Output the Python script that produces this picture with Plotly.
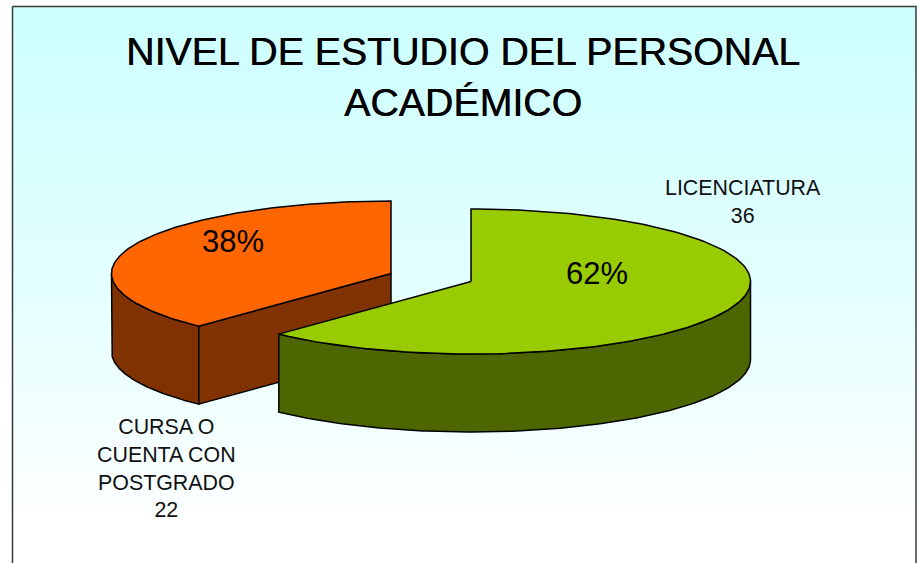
import numpy as np
import plotly.graph_objects as go

# ---- data ----
categories = ["LICENCIATURA", "CURSA O<br>CUENTA CON<br>POSTGRADO"]
values = [36, 22]
top_colors = ["#99CC00", "#FF6600"]
side_colors = ["#4D6600", "#803300"]
title_text = "NIVEL DE ESTUDIO DEL PERSONAL<br>ACADÉMICO"

# ---- layout of the pseudo-3D pie, in page pixels ----
W, H = 919, 563
RX, RY, DEPTH = 279.5, 72.5, 78
centers = [(471, 281.5), (391, 273.5)]      # each slice is pulled out of the pie
OUTLINE = dict(color="#000000", width=1.5)

total = sum(values)
sweeps = np.cumsum([0] + values) / total * 2 * np.pi


def rim(c, a0, a1, n=160):
    t = np.linspace(a0, a1, n)
    return c[0] + RX * np.sin(t), c[1] - RY * np.cos(t)


def poly(fig, x, y, color):
    fig.add_trace(go.Scatter(x=list(x), y=list(y), mode="lines", fill="toself",
                             fillcolor=color, line=OUTLINE, hoverinfo="skip",
                             showlegend=False))


fig = go.Figure()

# panel with vertical cyan-to-white gradient
fig.add_trace(go.Scatter(
    x=[12.5, 916, 916, 12.5, 12.5], y=[6.5, 6.5, 570, 570, 6.5],
    mode="lines", fill="toself", hoverinfo="skip", showlegend=False,
    line=dict(color="#3a3a3a", width=1.5),
    fillgradient=dict(type="vertical", start=6, stop=530,
                      colorscale=[[0, "#CCFFFF"], [0.55, "#E4FFFF"], [1, "#FFFFFF"]]),
))

# orange slice (behind), then green slice (front)
for i in (1, 0):
    c = centers[i]
    a0, a1 = sweeps[i], sweeps[i + 1]
    # outer wall: only the part of the rim facing the viewer
    w0, w1 = max(a0, np.pi / 2), min(a1, 3 * np.pi / 2)
    wx, wy = rim(c, w0, w1)
    poly(fig, np.r_[wx, wx[::-1], wx[0]], np.r_[wy, wy[::-1] + DEPTH, wy[0]], side_colors[i])
    # cut wall facing the viewer, for the slice that ends on the top (hidden for the front one)
    if i == 1:
        sx, sy = rim(c, a0, a0, 1)
        poly(fig, [sx[0], c[0], c[0], sx[0], sx[0]],
             [sy[0], c[1], c[1] + DEPTH, sy[0] + DEPTH, sy[0]], side_colors[i])
    # top face
    tx, ty = rim(c, a0, a1)
    poly(fig, np.r_[c[0], tx, c[0]], np.r_[c[1], ty, c[1]], top_colors[i])

ann = []
ann.append(dict(x=463, y=76, text=title_text,
                font=dict(size=39.3, shadow="0.5px 0 0 #000000")))
for i, (px, py) in enumerate([(597, 273), (233, 241)]):
    ann.append(dict(x=px, y=py, text=f"{values[i] / total:.0%}", font=dict(size=31)))
for i, (px, py) in enumerate([(743, 202), (166, 468)]):
    ann.append(dict(x=px, y=py, text=f"{categories[i]}<br>{values[i]}",
                    font=dict(size=21.4, color="#111111")))

fig.update_layout(
    width=W, height=H, margin=dict(l=0, r=0, t=0, b=0),
    paper_bgcolor="#FFFFFF", plot_bgcolor="rgba(0,0,0,0)", showlegend=False,
    font=dict(family="Liberation Sans, Arial, sans-serif", color="#000000"),
    xaxis=dict(range=[0, W], visible=False, fixedrange=True),
    yaxis=dict(range=[H, 0], visible=False, fixedrange=True),
    annotations=[dict(a, xref="x", yref="y", showarrow=False, xanchor="center",
                      yanchor="middle", align="center") for a in ann],
)
fig.write_html("out.html", config=dict(displayModeBar=False),
               post_script="document.body.style.margin='0';document.documentElement.style.overflow='hidden';")
